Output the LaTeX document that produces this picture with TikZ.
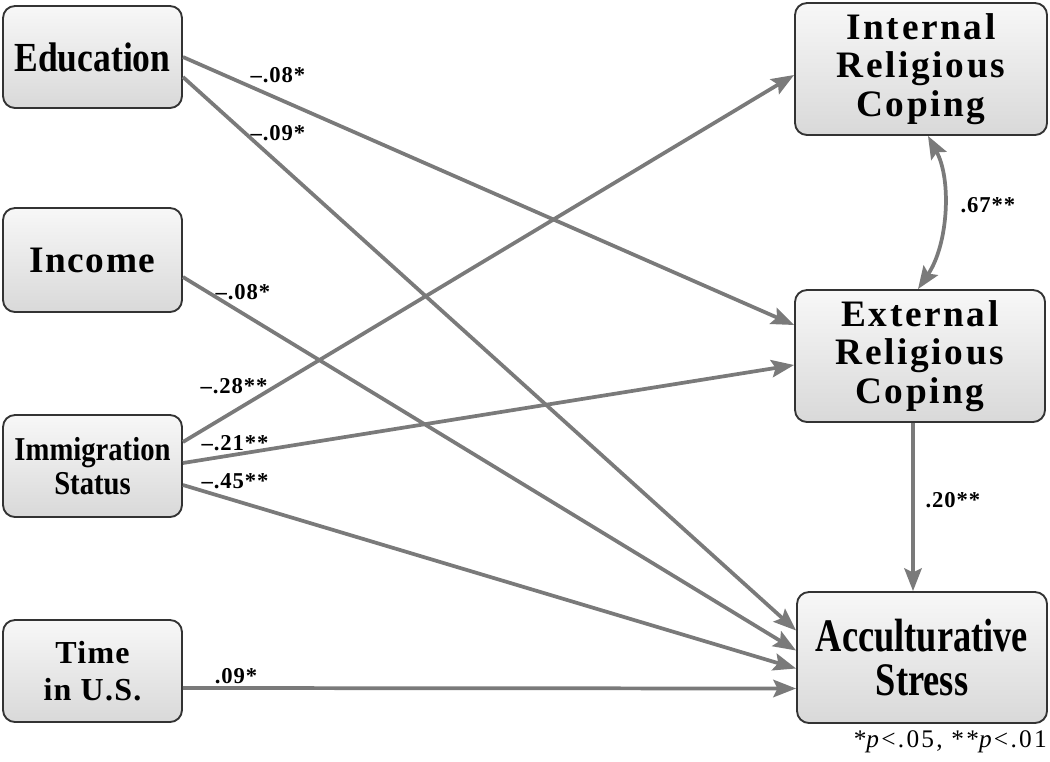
\documentclass[tikz,border=0pt]{standalone}
\usepackage{fontspec}
\setmainfont{Liberation Serif}
\newfontfamily\condA[FakeStretch=0.86]{Liberation Serif}
\newfontfamily\condB[FakeStretch=0.78]{Liberation Serif}
\newfontfamily\spcA[LetterSpace=4]{Liberation Serif}
\newfontfamily\spcB[LetterSpace=7]{Liberation Serif}
\newfontfamily\spcC[LetterSpace=4]{Liberation Serif}
\newfontfamily\spcD[LetterSpace=9]{Liberation Serif}
\usetikzlibrary{arrows.meta,positioning}
\definecolor{edgec}{RGB}{122,122,122}
\begin{document}
\begin{tikzpicture}[x=0.75pt,y=-0.75pt,
  box/.style={draw=black!80, line width=1.4pt, rounded corners=9pt, top color=gray!6, bottom color=gray!30, align=center, inner sep=0pt},
  arr/.style={draw=edgec, line width=2.8pt, -{Stealth[length=17pt,width=13pt,inset=3pt]}},
  arrb/.style={draw=edgec, line width=2.8pt, {Stealth[length=17pt,width=13pt,inset=3pt]}-{Stealth[length=17pt,width=13pt,inset=3pt]}},
  lbl/.style={font=\spcC\bfseries\fontsize{17}{17}\selectfont, inner sep=0pt}
]
\useasboundingbox (0,0) rectangle (1050,761);
% boxes
\node[box, minimum width=134.25pt, minimum height=76.5pt, font=\condA\bfseries\fontsize{31}{31}\selectfont] (edu) at (92.5,57) {Education};
\node[box, minimum width=134.25pt, minimum height=78pt, font=\spcA\bfseries\fontsize{28}{28}\selectfont] (inc) at (92.5,260) {Income};
\node[box, minimum width=134.25pt, minimum height=76.5pt, font=\condA\bfseries\fontsize{25}{25}\selectfont] (imm) at (92.5,466) {Immigration\\Status};
\node[box, minimum width=134.25pt, minimum height=76.5pt, font=\spcA\bfseries\fontsize{24}{28}\selectfont] (tim) at (92.5,671) {Time\\in U.S.};
\node[box, minimum width=189pt, minimum height=99pt, font=\spcB\bfseries\fontsize{28}{29}\selectfont] (int) at (921,69) {Internal\\Religious\\Coping};
\node[box, minimum width=187.5pt, minimum height=99pt, font=\spcB\bfseries\fontsize{28}{29}\selectfont] (ext) at (920,356) {External\\Religious\\Coping};
\node[box, minimum width=187.5pt, minimum height=98.25pt, font=\condB\bfseries\fontsize{35}{33}\selectfont] (acc) at (922,657.5) {Acculturative\\Stress};
% paths
\draw[arr] (edu.east) -- ([yshift=23.25pt]ext.west);
\draw[arr] ([yshift=-15pt]edu.east) -- ([yshift=20.25pt]acc.west);
\draw[arr] ([yshift=-12.75pt]inc.east) -- ([yshift=5.25pt]acc.west);
\draw[arr] ([yshift=18pt]imm.east) -- ([yshift=-4.5pt]int.west);
\draw[arr] ([yshift=2.25pt]imm.east) -- ([yshift=-6.75pt]ext.west);
\draw[arr] ([yshift=-14.25pt]imm.east) -- ([yshift=-8.25pt]acc.west);
\draw[arr] ([yshift=-12.75pt]tim.east) -- ([yshift=-23.25pt]acc.west);
\draw[arr] ([xshift=-5.25pt]ext.south) -- ([xshift=-5.25pt]ext.south |- acc.north);
\draw[arrb] ([xshift=5.25pt]int.south) .. controls (952,180) and (948,245) .. ([xshift=-1.5pt]ext.north);
% labels
\node[lbl] (l1) at (278,75) {–.08*};
\node[lbl] (l2) at (278,133) {–.09*};
\node[lbl] (l3) at (243,292) {–.08*};
\node[lbl] (l4) at (234,386) {–.28**};
\node[lbl] (l5) at (235,443) {–.21**};
\node[lbl] (l6) at (235,481) {–.45**};
\node[lbl] (l7) at (236,676) {.09*};
\node[lbl] (l8) at (988,205) {.67**};
\node[lbl] (l9) at (953,500) {.20**};
\node[anchor=east, inner sep=0pt, font=\spcD\fontsize{19}{19}\selectfont] (note) at (1047,742) {*\textit{p}<.05, **\textit{p}<.01};
\end{tikzpicture}
\end{document}
